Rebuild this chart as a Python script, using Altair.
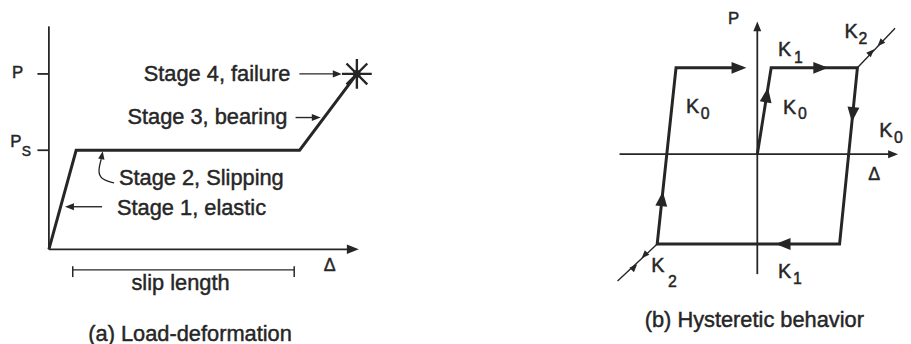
import altair as alt
import pandas as pd

FONT = "Liberation Sans"
INK = "#262626"
ARROW = "M0,-1L0.8,1L-0.8,1Z"
STAR = "M-1,0L1,0M0,-1L0,1M-0.7,-0.7L0.7,0.7M-0.7,0.7L0.7,-0.7"

# ---------------- panel (a): load-deformation ----------------
A_XDOM = [-1.5, 14.5]
A_YDOM = [-0.94, 2.42]

a_curve_d = [0.0, 1.0, 9.2, 11.3]
a_curve_p = [0.0, 1.0, 1.0, 1.77]

a_axes_id = ["P-axis", "P-axis", "D-axis", "D-axis", "P tick", "P tick", "Ps tick", "Ps tick"]
a_axes_d = [0.0, 0.0, 0.0, 11.1, -0.42, 0.0, -0.42, 0.0]
a_axes_p = [0.0, 2.25, 0.0, 0.0, 1.77, 1.77, 1.0, 1.0]

a_slip_id = ["bar", "bar", "left", "left", "right", "right"]
a_slip_d = [0.875, 9.0, 0.875, 0.875, 9.0, 9.0]
a_slip_p = [-0.207, -0.207, -0.17, -0.28, -0.17, -0.28]

a_pointer_id = ["s4", "s4", "s3", "s3", "s1", "s1"]
a_pointer_d = [9.19, 10.5, 9.05, 9.7, 1.95, 0.83]
a_pointer_p = [1.77, 1.77, 1.33, 1.33, 0.43, 0.43]

a_hook_d = [2.39, 1.88, 1.81, 1.92]
a_hook_p = [0.67, 0.71, 0.80, 0.91]

a_head_d = [11.15, 10.58, 9.81, 0.755, 1.95]
a_head_p = [0.0, 1.77, 1.33, 0.43, 0.95]
a_head_angle = [90, 90, 90, 270, 10]
a_head_size = [144, 81, 81, 81, 64]

a_star_d = [11.3]
a_star_p = [1.77]

a_text = ["Stage 4, failure", "Stage 3, bearing", "Stage 2, Slipping",
          "Stage 1, elastic", "slip length", "(a) Load-deformation"]
a_text_d = [8.86, 8.75, 2.57, 2.5, 4.83, 5.18]
a_text_p = [1.77, 1.33, 0.72, 0.42, -0.34, -0.85]
a_text_align = ["right", "right", "left", "left", "center", "center"]

a_sym = ["P", "P", "\u0394"]
a_sym_d = [-1.35, -1.42, 10.08]
a_sym_p = [1.78, 1.08, -0.17]
a_sym_size = [17, 17, 18]
a_sub = ["S"]
a_sub_d = [-1.0]
a_sub_p = [0.98]

# ---------------- panel (b): hysteretic behavior ----------------
B_XDOM = [-2.16, 1.47]
B_YDOM = [-2.159, 1.659]

b_loop_d = [0.0, 0.14, 1.01, 0.83, -1.01, -0.82, -0.15]
b_loop_p = [0.0, 0.99, 0.99, -1.03, -1.03, 0.99, 0.99]

b_axes_id = ["P-axis", "P-axis", "D-axis", "D-axis"]
b_axes_d = [0.0, 0.0, -1.39, 1.35]
b_axes_p = [-1.375, 1.43, 0.0, 0.0]

b_k2_id = ["upper", "upper", "lower", "lower"]
b_k2_d = [1.01, 1.39, -1.41, -1.01]
b_k2_p = [0.99, 1.443, -1.455, -1.03]

b_head_d = [0.0, 1.37, -0.185, 0.64, 0.962, 0.26, -0.961, 0.096, 1.15, 1.24, -1.14, -1.24]
b_head_p = [1.466, 0.0, 0.99, 0.99, 0.455, -1.03, -0.511, 0.68, 1.17, 1.27, -1.16, -1.295]
b_head_angle = [0, 90, 90, 90, 186, 270, 6, 9, 44, 224, 224, 44]
b_head_size = [100, 100, 225, 225, 225, 225, 225, 225, 64, 64, 64, 64]

b_k_d = [0.21, 0.26, -0.72, 1.23, 0.88, -1.07, 0.21]
b_k_p = [1.19, 0.53, 0.545, 0.27, 1.40, -1.28, -1.35]
b_sub = ["1", "0", "0", "0", "2", "2", "1"]
b_sub_d = [0.37, 0.41, -0.57, 1.38, 1.02, -0.90, 0.36]
b_sub_p = [1.10, 0.46, 0.46, 0.18, 1.32, -1.466, -1.43]

b_sym = ["P", "\u0394"]
b_sym_d = [-0.24, 1.18]
b_sym_p = [1.545, -0.24]
b_sym_size = [17, 18]

b_caption = ["(b) Hysteretic behavior"]
b_caption_d = [-0.03]
b_caption_p = [-1.9]


def scales(xdom, ydom):
    return (alt.Scale(domain=xdom, nice=False, zero=False),
            alt.Scale(domain=ydom, nice=False, zero=False))


def seg_df(ids, ds, ps):
    return pd.DataFrame({"id": ids, "d": ds, "p": ps, "o": list(range(len(ds)))})


def lines(df, xs, ys, width, interpolate="linear", join="miter"):
    return alt.Chart(df).mark_line(
        color=INK, strokeWidth=width, interpolate=interpolate,
        strokeJoin=join, strokeCap="butt"
    ).encode(
        x=alt.X("d:Q", scale=xs, axis=None),
        y=alt.Y("p:Q", scale=ys, axis=None),
        detail="id:N",
        order="o:Q",
    )


def heads(ds, ps, angles, sizes, xs, ys):
    df = pd.DataFrame({"d": ds, "p": ps, "a": angles, "s": sizes})
    return alt.Chart(df).mark_point(
        shape=ARROW, filled=True, color=INK, opacity=1, strokeWidth=0
    ).encode(
        x=alt.X("d:Q", scale=xs, axis=None),
        y=alt.Y("p:Q", scale=ys, axis=None),
        angle=alt.Angle("a:Q", scale=None),
        size=alt.Size("s:Q", scale=None),
    )


def texts(labels, ds, ps, xs, ys, size, align="left", clip=False, sizes=None):
    df = pd.DataFrame({"t": labels, "d": ds, "p": ps})
    enc = dict(
        x=alt.X("d:Q", scale=xs, axis=None),
        y=alt.Y("p:Q", scale=ys, axis=None),
        text="t:N",
    )
    if sizes is not None:
        df["fs"] = sizes
        enc["size"] = alt.Size("fs:Q", scale=None)
    return alt.Chart(df).mark_text(
        font=FONT, fontSize=size, color=INK, align=align, baseline="middle", clip=clip,
        stroke=INK, strokeWidth=0.45
    ).encode(**enc)


# ---- build panel (a)
axs, ays = scales(A_XDOM, A_YDOM)
a_txt = pd.DataFrame({"t": a_text, "d": a_text_d, "p": a_text_p, "al": a_text_align})
a_layers = [
    lines(seg_df(a_axes_id, a_axes_d, a_axes_p), axs, ays, 1.8),
    lines(seg_df(["c"] * 4, a_curve_d, a_curve_p), axs, ays, 3.0),
    lines(seg_df(a_slip_id, a_slip_d, a_slip_p), axs, ays, 1.5),
    lines(seg_df(a_pointer_id, a_pointer_d, a_pointer_p), axs, ays, 1.4),
    lines(seg_df(["h"] * 4, a_hook_d, a_hook_p), axs, ays, 1.3, interpolate="basis", join="round"),
    heads(a_head_d, a_head_p, a_head_angle, a_head_size, axs, ays),
    alt.Chart(pd.DataFrame({"d": a_star_d, "p": a_star_p})).mark_point(
        shape=STAR, size=900, filled=False, color=INK, strokeWidth=2.4, opacity=1
    ).encode(x=alt.X("d:Q", scale=axs, axis=None), y=alt.Y("p:Q", scale=ays, axis=None)),
    alt.Chart(pd.DataFrame({"d": a_star_d, "p": a_star_p})).mark_point(
        shape="circle", size=60, filled=True, color=INK, opacity=1
    ).encode(x=alt.X("d:Q", scale=axs, axis=None), y=alt.Y("p:Q", scale=ays, axis=None)),
]
for al in ["left", "right", "center"]:
    sub = a_txt[a_txt["al"] == al]
    a_layers.append(texts(list(sub["t"]), list(sub["d"]), list(sub["p"]), axs, ays, 22, align=al))
a_layers.append(texts(a_sym, a_sym_d, a_sym_p, axs, ays, 17, align="left", sizes=a_sym_size))
a_layers.append(texts(a_sub, a_sub_d, a_sub_p, axs, ays, 14, align="left"))

panel_a = alt.layer(*a_layers).properties(width=440, height=336)

# ---- build panel (b)
bxs, bys = scales(B_XDOM, B_YDOM)
b_layers = [
    lines(seg_df(b_axes_id, b_axes_d, b_axes_p), bxs, bys, 1.8),
    lines(seg_df(["loop"] * 7, b_loop_d, b_loop_p), bxs, bys, 3.0),
    lines(seg_df(b_k2_id, b_k2_d, b_k2_p), bxs, bys, 1.4),
    heads(b_head_d, b_head_p, b_head_angle, b_head_size, bxs, bys),
    texts(["K"] * len(b_k_d), b_k_d, b_k_p, bxs, bys, 20, align="left", clip=True),
    texts(b_sub, b_sub_d, b_sub_p, bxs, bys, 16, align="left", clip=True),
    texts(b_sym, b_sym_d, b_sym_p, bxs, bys, 17, align="center", sizes=b_sym_size),
    texts(b_caption, b_caption_d, b_caption_p, bxs, bys, 22, align="center"),
]
panel_b = alt.layer(*b_layers).properties(width=363, height=336)

chart = alt.hconcat(panel_a, panel_b, spacing=100, padding=0, bounds="flush").configure_view(
    stroke=None
)

chart.save("out.html", embed_options={"renderer": "svg", "actions": False})
